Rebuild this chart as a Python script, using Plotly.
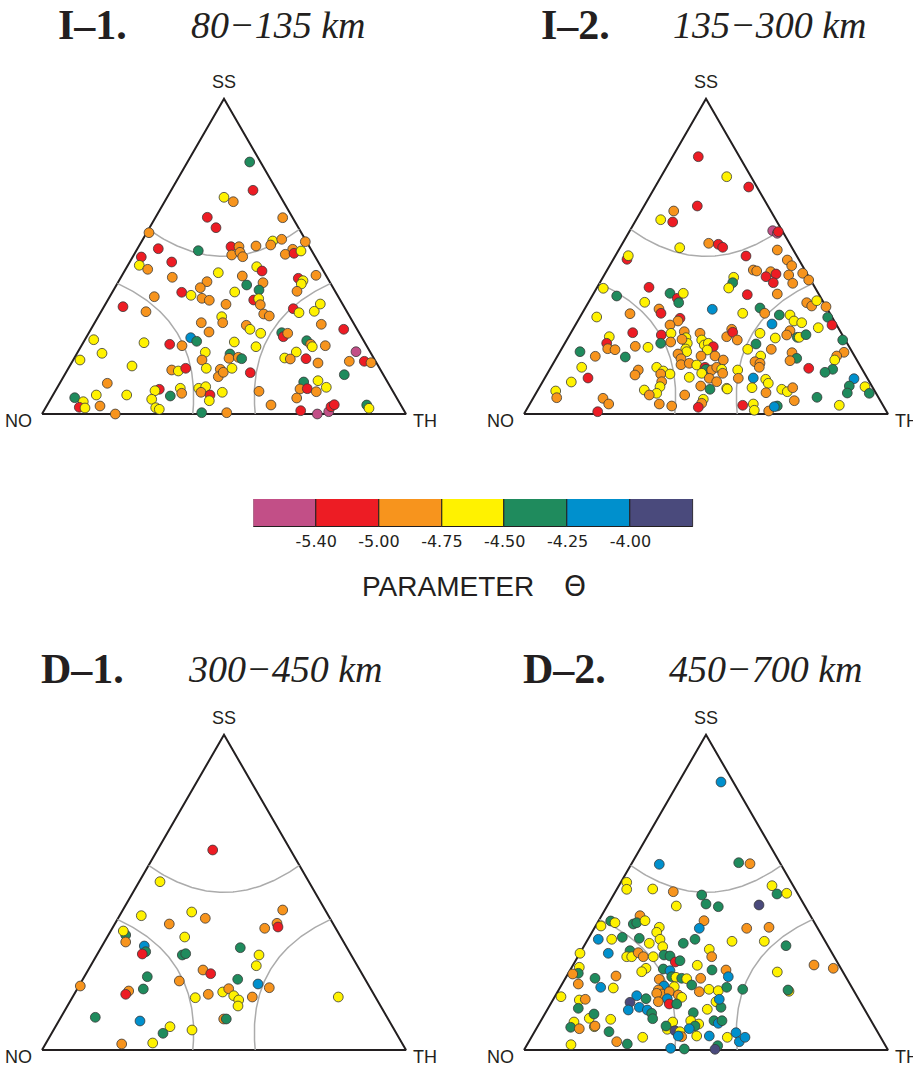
import math
import numpy as np
import plotly.graph_objects as go

# ---------------------------------------------------------------------------
# DATA
# Point positions are read on each triangle diagram in units where the triangle
# side = 364 (x: from NO vertex toward TH vertex, y: height above the NO-TH base).
# Third element: Theta class (M < -5.40 < R < -5.00 < O < -4.75 < Y < -4.50 < G < -4.25 < B < -4.00 < P)
# ---------------------------------------------------------------------------
SIDE = 364.0

I1_PTS = [
    (165.3, 196.7, 'R'), (174, 186.3, 'R'), (107, 181.3, 'O'), (116.3, 165.3, 'R'), (156.3, 163.3, 'G'),
    (99.3, 157, 'R'), (97.3, 148.7, 'Y'), (105.7, 144.7, 'O'), (129.7, 152, 'R'), (130.3, 136.7, 'O'),
    (176.3, 141.3, 'Y'), (165, 132.3, 'O'), (158.3, 126.3, 'O'), (139.7, 121.7, 'R'), (149, 118.7, 'Y'),
    (160, 115.7, 'O'), (167.3, 113.7, 'O'), (112.3, 117.3, 'O'), (81, 107.3, 'R'), (104, 102.3, 'O'),
    (159.3, 91.3, 'O'), (167, 82, 'O'), (148.7, 76.3, 'B'), (154.7, 72.7, 'G'), (140, 68.3, 'O'),
    (127.7, 69.7, 'R'), (102, 71.3, 'Y'), (51.7, 74.3, 'Y'), (60, 60.7, 'Y'), (38, 54, 'Y'),
    (90, 48, 'Y'), (65.3, 30.7, 'O'), (54.3, 19, 'Y'), (32.7, 16.3, 'G'), (41.3, 12.3, 'Y'),
    (37.3, 6.7, 'R'), (43, 6, 'Y'), (58, 8, 'O'), (73.3, 0, 'O'), (84.7, 19, 'Y'),
    (117.3, 24.7, 'R'), (113, 23.3, 'Y'), (109.7, 14.7, 'Y'), (113.7, 6.3, 'Y'), (117.3, 4.7, 'Y'),
    (128.3, 18, 'G'), (138.3, 25.7, 'Y'), (139.7, 20.7, 'O'), (129.7, 44, 'O'), (136.3, 43, 'Y'),
    (143.7, 45.7, 'R'), (159.7, 1.3, 'G'), (156.7, 25.7, 'Y'), (163.7, 27.3, 'Y'), (159, 21.7, 'O'),
    (168, 19, 'R'), (167.3, 13.3, 'Y'), (163.3, 61.7, 'Y'), (160, 54, 'O'), (164.3, 45.7, 'Y'),
    (178.3, 44.7, 'O'), (176.3, 37.3, 'O'), (181.3, 41.7, 'O'),
    (207.7, 252, 'G'), (211, 223.7, 'R'), (182, 216.7, 'Y'), (191.3, 212.3, 'O'), (240.7, 196.3, 'O'),
    (263.3, 172.3, 'O'), (230.7, 173, 'Y'), (239.7, 174.7, 'O'), (228.7, 169, 'O'), (214, 168, 'O'),
    (189, 167.3, 'R'), (197, 167.3, 'O'), (189.7, 159, 'O'), (198, 161.7, 'O'), (200.7, 157.3, 'O'),
    (250.7, 164.7, 'O'), (243.3, 159.7, 'O'), (252, 160.7, 'R'), (259, 163, 'Y'), (214.7, 147.3, 'Y'),
    (220, 143, 'R'), (200.3, 138, 'O'), (204.7, 129, 'G'), (221, 131.3, 'O'), (217, 124, 'G'),
    (192.7, 122, 'Y'), (211.7, 114, 'R'), (216.7, 115.3, 'Y'), (218.3, 109.3, 'O'), (184, 109.7, 'O'),
    (221.7, 100, 'O'), (227.3, 98, 'O'), (179.7, 97.3, 'Y'), (180.7, 91.3, 'O'), (256.3, 135.7, 'R'),
    (261, 133.3, 'Y'), (259.3, 130, 'Y'), (255, 122.7, 'O'), (274, 138.7, 'O'), (251.3, 105.3, 'R'),
    (257, 101.3, 'Y'), (272.3, 102.7, 'Y'), (278.3, 110, 'Y'), (279.3, 89.7, 'O'), (204.3, 88.7, 'O'),
    (208, 84.7, 'Y'), (218.7, 80.7, 'Y'), (239.7, 81.3, 'G'), (241.3, 77.3, 'R'), (245.7, 80.7, 'O'),
    (192.3, 72, 'Y'), (214, 67.3, 'Y'), (188, 60, 'G'), (187, 55.7, 'O'), (196.3, 56.7, 'O'),
    (199.7, 55.3, 'G'), (190, 45.7, 'Y'), (264.7, 73.3, 'G'), (268.7, 69.7, 'O'), (270.3, 67.3, 'Y'),
    (283.3, 68.3, 'O'), (254.3, 62, 'Y'), (242.7, 56, 'Y'), (248.3, 55, 'O'), (264, 55.3, 'R'),
    (276, 51, 'O'), (301.7, 84.7, 'R'), (314, 62.3, 'M'), (307.3, 52.7, 'O'), (322.3, 52.7, 'R'),
    (329, 51.3, 'O'), (302.3, 39.3, 'G'), (208.3, 41.3, 'R'), (261.7, 32, 'G'), (258, 25, 'O'),
    (265.3, 25.3, 'R'), (276, 33.3, 'Y'), (274.3, 22.3, 'O'), (284.3, 26.7, 'Y'), (254.7, 16, 'O'),
    (217, 22.7, 'O'), (229, 9, 'O'), (180.3, 21.7, 'Y'), (184.7, 1.3, 'O'), (258.7, 3.3, 'R'),
    (275.3, 0, 'M'), (286.7, 2.3, 'M'), (289, 7.3, 'R'), (292.3, 9.3, 'R'), (324.7, 9, 'G'),
    (327, 5.7, 'Y'),
]

I2_PTS = [
    (149.7, 203, 'O'), (136.7, 194.3, 'Y'), (148.7, 192, 'R'), (155.7, 166.3, 'Y'), (103, 154.7, 'R'),
    (104.3, 158.3, 'Y'), (72.7, 97, 'Y'), (56, 62.3, 'G'), (71.3, 57.7, 'O'), (57.7, 46.7, 'Y'),
    (64, 36, 'R'), (47.3, 32, 'Y'), (31.7, 23, 'Y'), (32.7, 16.3, 'O'), (73.7, 2.3, 'R'),
    (79.3, 125.7, 'Y'), (92.7, 118, 'G'), (125, 126.7, 'R'), (146, 120.7, 'G'), (153.3, 115.7, 'R'),
    (159.3, 120.7, 'Y'), (154.7, 111.3, 'G'), (120.7, 111.7, 'Y'), (135, 105, 'O'), (137, 100.7, 'R'),
    (106, 100.3, 'O'), (188.3, 104.7, 'B'), (156, 95.7, 'R'), (154, 93, 'O'), (146, 89, 'O'),
    (108.7, 81.3, 'R'), (85.3, 77.3, 'Y'), (82.7, 70.7, 'R'), (83.7, 65.3, 'O'), (91, 64.3, 'O'),
    (111.3, 67.7, 'O'), (124, 66.7, 'Y'), (101.3, 57, 'G'), (137.3, 79, 'R'), (136.7, 70.7, 'G'),
    (147, 80.7, 'Y'), (146.7, 72, 'O'), (160.3, 82.3, 'O'), (162, 76.3, 'Y'), (163.3, 70.7, 'Y'),
    (161.7, 65, 'Y'), (162.7, 62.3, 'Y'), (158, 74.7, 'O'), (154, 60, 'O'), (157, 55.3, 'O'),
    (157, 49.3, 'O'), (165.3, 50.7, 'O'), (176, 80.7, 'O'), (177.7, 74, 'Y'), (180.3, 69, 'Y'),
    (184.3, 70.7, 'Y'), (189.3, 67.3, 'R'), (183.3, 64, 'Y'), (177, 58, 'O'), (191, 58, 'O'),
    (199.3, 54, 'O'), (202.7, 77.3, 'O'), (172.7, 49, 'Y'), (181, 46.7, 'R'), (182, 44.7, 'G'),
    (177.7, 40.7, 'Y'), (187.7, 44, 'O'), (192.7, 46.7, 'O'), (197.7, 44.7, 'Y'), (185.3, 35.7, 'O'),
    (192.7, 32.3, 'O'), (202.7, 25.7, 'Y'), (176.7, 28, 'O'), (186, 24.7, 'G'), (165.3, 36.7, 'Y'),
    (160.7, 19, 'O'), (179.3, 14.7, 'Y'), (177.7, 10.7, 'O'), (174.3, 6.7, 'R'), (132.7, 46.7, 'Y'),
    (139.3, 43, 'Y'), (146, 40, 'Y'), (136.7, 40, 'O'), (137.7, 32.3, 'O'), (114.3, 44, 'O'),
    (111, 39, 'O'), (136, 27.3, 'Y'), (132.7, 20.7, 'Y'), (120.3, 24, 'Y'), (125.3, 19, 'O'),
    (135.3, 10, 'O'), (147.7, 8, 'O'), (79, 15.7, 'O'), (84.7, 10, 'O'),
    (174.3, 257.3, 'R'), (202.7, 237.3, 'Y'), (224.7, 227, 'R'), (173.3, 208, 'R'), (248.7, 183.3, 'M'),
    (253.3, 180.7, 'M'), (254.3, 182.3, 'R'), (184.7, 170.7, 'O'), (194.3, 169.7, 'R'), (198.7, 166.7, 'R'),
    (222, 158, 'R'), (253.3, 164, 'O'), (263.3, 154, 'O'), (267.7, 148.3, 'O'), (229.3, 144, 'O'),
    (232.7, 143, 'O'), (246.7, 142.3, 'O'), (252, 140, 'R'), (242, 137.3, 'R'), (249.3, 131.3, 'R'),
    (264.7, 139, 'O'), (268.7, 130.7, 'O'), (278.7, 140.7, 'O'), (284.7, 134, 'O'), (209.7, 136.7, 'Y'),
    (208.7, 131.3, 'G'), (204.7, 126, 'Y'), (223.3, 119.3, 'R'), (253.3, 120, 'O'), (218.7, 100.7, 'Y'),
    (236, 106, 'G'), (240.7, 100.7, 'O'), (255.3, 99, 'G'), (248, 90, 'B'), (266, 99, 'Y'),
    (270, 93, 'Y'), (277.7, 91.3, 'Y'), (282.7, 111.3, 'O'), (287.7, 108, 'O'), (292.7, 113.3, 'Y'),
    (302, 107.3, 'O'), (303.7, 96.7, 'G'), (308, 89, 'R'), (294.3, 86.3, 'Y'), (318.7, 74, 'G'),
    (266, 83.3, 'O'), (262.7, 79, 'O'), (273.3, 76.7, 'G'), (275.3, 76.7, 'Y'), (282, 79.3, 'G'),
    (251.3, 76, 'Y'), (236, 80.7, 'Y'), (232, 70, 'G'), (247.3, 64.7, 'O'), (223.7, 64.7, 'Y'),
    (236.7, 58, 'Y'), (231, 52.3, 'O'), (236, 50.7, 'O'), (235.3, 46.7, 'O'), (268, 61.3, 'O'),
    (272.7, 55.7, 'G'), (266, 53.3, 'O'), (320, 61.7, 'O'), (312.7, 58, 'O'), (310.7, 54, 'Y'),
    (308.7, 44.7, 'G'), (301, 41.7, 'G'), (284.7, 45.7, 'R'), (213.7, 44, 'Y'), (214.3, 35.7, 'O'),
    (229.3, 36, 'B'), (228, 26.3, 'Y'), (241.7, 34.7, 'Y'), (244.3, 30.7, 'Y'), (242, 21.3, 'O'),
    (257.7, 24.7, 'Y'), (263.3, 22.3, 'Y'), (268.7, 26.3, 'O'), (270.3, 13.3, 'O'), (293, 16.7, 'G'),
    (218.7, 8.7, 'R'), (229.3, 10, 'Y'), (230.3, 3.7, 'Y'), (244.7, 3, 'O'), (253.3, 8, 'G'),
    (250.3, 7.3, 'B'), (315.3, 8.7, 'Y'), (330, 35.3, 'B'), (325.3, 28, 'G'), (323.3, 21, 'G'),
    (341, 27.3, 'Y'), (345.3, 20.7, 'G'), (203.3, 25, 'Y'), (207.7, 84.7, 'O'), (208.7, 81.7, 'R'),
    (213.3, 74, 'O'), (198.7, 40.7, 'O'),
]

D1_PTS = [
    (170.7, 200, 'R'), (118, 168.3, 'Y'), (99.3, 134.3, 'Y'), (149.7, 138, 'Y'), (163.3, 131.7, 'O'),
    (127.3, 126, 'O'), (240.7, 140, 'O'), (235, 126.7, 'O'), (236, 123, 'R'), (222.7, 121.7, 'O'),
    (83.7, 115, 'G'), (81.3, 119, 'Y'), (83.7, 108, 'O'), (142.7, 113, 'Y'), (102.3, 104, 'B'),
    (103.7, 98.3, 'G'), (100.3, 96, 'R'), (140.3, 95, 'G'), (143.7, 96.3, 'G'), (198.3, 102.3, 'G'),
    (217, 95, 'Y'), (214.3, 84.3, 'Y'), (161, 80, 'O'), (168.7, 76.3, 'R'), (105.3, 73.3, 'G'),
    (137.3, 69, 'O'), (195.7, 70.7, 'G'), (216, 66, 'B'), (227.3, 62.3, 'O'), (38.3, 64, 'O'),
    (86.7, 59, 'O'), (83.7, 55.7, 'R'), (101.3, 61, 'G'), (153.3, 52.3, 'Y'), (166.3, 55.7, 'O'),
    (180.7, 58, 'Y'), (186.7, 61.3, 'O'), (191.7, 54.3, 'Y'), (196.7, 50, 'Y'), (196, 44, 'Y'),
    (210.3, 53, 'O'), (296.3, 53, 'Y'), (53.3, 32.7, 'G'), (98, 29, 'B'), (181.7, 31, 'O'),
    (184.3, 31, 'G'), (128, 23.3, 'Y'), (121, 16.7, 'G'), (150, 20, 'Y'), (79.7, 6, 'O'),
    (110.7, 7, 'Y'),
]

D2_PTS = [
    (135.3, 185.7, 'B'), (102.7, 167.7, 'Y'), (102.7, 160.7, 'Y'), (128.7, 161, 'Y'), (149.3, 158.3, 'O'),
    (56, 96.7, 'Y'), (55.3, 82.7, 'Y'), (54.3, 76.7, 'G'), (48.7, 76, 'O'), (54.3, 66, 'O'),
    (37, 53.3, 'Y'), (55.3, 50, 'Y'), (61.3, 50.7, 'O'), (54.3, 41.7, 'G'), (50, 28, 'Y'),
    (46.7, 22.7, 'G'), (55.3, 21.3, 'O'), (47, 5.3, 'Y'), (65.3, 31.7, 'Y'), (70.3, 23.3, 'Y'),
    (152.3, 144, 'Y'), (182, 146, 'G'), (194.3, 143.3, 'G'), (116, 134.3, 'O'), (109.3, 126, 'G'),
    (112.7, 127.3, 'G'), (121, 129.3, 'Y'), (86.7, 129, 'G'), (91, 127.3, 'Y'), (77, 124, 'Y'),
    (74.3, 110.7, 'B'), (87.7, 110.7, 'Y'), (98.3, 112.7, 'G'), (135.3, 122.7, 'Y'), (132.7, 117.7, 'Y'),
    (115.3, 111.7, 'G'), (125.3, 106.7, 'Y'), (136, 110.7, 'Y'), (138.7, 103.3, 'Y'), (180, 129.3, 'O'),
    (175.3, 121.7, 'B'), (171, 110.7, 'G'), (159.3, 106.7, 'G'), (208, 108.7, 'Y'), (222.7, 121.7, 'O'),
    (84.3, 96.7, 'B'), (106, 99.3, 'G'), (102.7, 93.3, 'Y'), (107.7, 93.3, 'Y'), (114.3, 97.3, 'O'),
    (119.3, 93.3, 'O'), (129.3, 93.3, 'Y'), (140, 95, 'G'), (146, 94, 'G'), (151.3, 88, 'R'),
    (156, 89.3, 'G'), (185.3, 100.7, 'Y'), (187.7, 93.3, 'O'), (173.3, 84.7, 'Y'), (188, 80, 'G'),
    (202, 80, 'O'), (204.3, 73.3, 'B'), (122, 81.7, 'Y'), (117.7, 78.3, 'Y'), (139.3, 81, 'G'),
    (146, 79.3, 'B'), (71, 71.7, 'G'), (92, 74, 'O'), (76.7, 62.7, 'B'), (89.3, 62, 'Y'),
    (135.3, 70.7, 'O'), (147.7, 73.3, 'G'), (152, 72.7, 'Y'), (157.7, 71.7, 'G'), (162.7, 71.3, 'Y'),
    (176.7, 71.7, 'O'), (167.7, 65, 'G'), (140, 64, 'B'), (150.3, 63.3, 'Y'), (134.3, 60, 'O'),
    (137.7, 56, 'O'), (132.7, 56.7, 'O'), (145.3, 58.3, 'O'), (154.3, 55, 'O'), (157.7, 52.7, 'Y'),
    (143.3, 51.3, 'B'), (122, 51.3, 'G'), (112.7, 54.3, 'B'), (106, 47.7, 'P'), (104.3, 40, 'B'),
    (115.3, 42.7, 'B'), (123.3, 40, 'B'), (127.7, 36.7, 'G'), (128.7, 31.3, 'G'), (134.3, 48.3, 'O'),
    (145.3, 46, 'R'), (152.7, 46, 'G'), (175.3, 58.3, 'O'), (185, 60.7, 'Y'), (194.3, 59.3, 'Y'),
    (192, 48.3, 'Y'), (197, 42.7, 'G'), (195.3, 50.7, 'B'), (202.7, 62.7, 'G'), (218.7, 60.7, 'G'),
    (183.3, 40.7, 'Y'), (169.3, 37.3, 'G'), (166.7, 29.3, 'Y'), (174.7, 26, 'Y'), (171, 24, 'G'),
    (165.3, 21.3, 'B'), (190, 29.3, 'G'), (194.3, 26.7, 'B'), (198, 29.3, 'G'), (148.7, 28, 'Y'),
    (143.3, 20.7, 'Y'), (142, 24, 'G'), (151, 19.3, 'P'), (156, 18.3, 'Y'), (157.7, 13.3, 'O'),
    (154.3, 14, 'B'), (172.7, 14, 'Y'), (185.3, 14, 'B'), (203.3, 12.7, 'Y'), (212, 17.3, 'B'),
    (215.3, 8.3, 'B'), (221, 12.7, 'B'), (193.7, 4.3, 'G'), (191, 0.7, 'P'), (146.7, 1.7, 'B'),
    (160.3, 1, 'G'), (118.7, 12.7, 'Y'), (103.3, 6, 'G'), (92.7, 8.3, 'O'), (85, 18.3, 'G'),
    (86.7, 30.7, 'Y'), (71, 24, 'O'), (70, 36, 'G'),
    (197, 268, 'B'), (214.7, 187.3, 'G'), (226, 186.3, 'O'), (177.7, 155, 'G'), (248, 164.3, 'Y'),
    (253, 156, 'G'), (262.7, 156.7, 'Y'), (235, 145, 'P'), (245, 122.7, 'O'), (240.3, 108.7, 'Y'),
    (262, 104.3, 'G'), (253.3, 78, 'Y'), (265, 58.7, 'Y'), (264, 60, 'G'), (290, 85, 'O'),
    (309.3, 81.7, 'O'),
]

PANEL_LABELS = ["I–1.", "I–2.", "D–1.", "D–2."]
DEPTH_RANGES = ["80−135 km", "135−300 km", "300−450 km", "450−700 km"]
VERTEX_LABELS = ["SS", "NO", "TH"]

# Theta classes and legend
THETA_CLASSES = ['M', 'R', 'O', 'Y', 'G', 'B', 'P']
THETA_TICKS = ['-5.40', '-5.00', '-4.75', '-4.50', '-4.25', '-4.00']
LEGEND_TITLE = "PARAMETER"
LEGEND_SYMBOL = "Θ"

# Frohlich classification boundaries (plunge, degrees) drawn as grey curves
BOUNDARY_PLUNGE = {'SS': 54.74, 'NO': 54.74, 'TH': 54.74}

# ---------------------------------------------------------------------------
# STYLE / LAYOUT
# ---------------------------------------------------------------------------
W, H = 913, 1068
PX_PER_SIDE = 364.0
TRI_H = math.sqrt(3) / 2
INK = '#231F20'
COLORS = {'M': '#C24F87', 'R': '#ED1C24', 'O': '#F7941D', 'Y': '#FFF200',
          'G': '#1F8B5D', 'B': '#0090CD', 'P': '#4A4A7C'}

PANELS = [
    dict(pts=I1_PTS, left=42, base=414, dx=[0.0, 0.5], dy_px=[60, 440], tx=56, ix=189, ty=25.5),
    dict(pts=I2_PTS, left=524, base=414, dx=[0.5, 1.0], dy_px=[60, 440], tx=539, ix=671, ty=25.5),
    dict(pts=D1_PTS, left=42, base=1050, dx=[0.0, 0.5], dy_px=[700, 1068], tx=39, ix=186, ty=669),
    dict(pts=D2_PTS, left=524, base=1050, dx=[0.5, 1.0], dy_px=[700, 1068], tx=521, ix=667, ty=669),
]


def frohlich(dT, dB, dP):
    z = math.atan(1 / math.sqrt(2))
    psi = np.arctan2(np.sin(dT), np.sin(dP)) - np.pi / 4
    den = math.sin(z) * np.sin(dB) + math.cos(z) * np.cos(dB) * np.cos(psi)
    h = np.cos(dB) * np.sin(psi) / den
    v = (math.cos(z) * np.sin(dB) - math.sin(z) * np.cos(dB) * np.cos(psi)) / den
    r = math.sqrt(1.5)
    return (h + r) / (2 * r), (v + 1 / math.sqrt(2)) / (2 * r)


def boundary(kind, plunge):
    d = math.radians(plunge)
    rr = math.cos(d)
    phi = np.linspace(0, np.pi / 2, 120)
    a = np.arcsin(np.clip(rr * np.sin(phi), -1, 1))
    b = np.arcsin(np.clip(rr * np.cos(phi), -1, 1))
    full = np.full_like(phi, d)
    if kind == 'SS':
        return frohlich(a, full, b)
    if kind == 'NO':
        return frohlich(a, b, full)
    return frohlich(full, b, a)


fig = go.Figure()
layout_axes = {}
annotations = []

for i, p in enumerate(PANELS):
    sfx = '' if i == 0 else str(i + 1)
    xa, ya = 'x' + sfx, 'y' + sfx
    # triangle
    fig.add_trace(go.Scatter(x=[0, 1, 0.5, 0], y=[0, 0, TRI_H, 0], mode='lines',
                             line=dict(color=INK, width=2), xaxis=xa, yaxis=ya,
                             hoverinfo='skip', cliponaxis=False))
    for kind in ['SS', 'NO', 'TH']:
        bx, by = boundary(kind, BOUNDARY_PLUNGE[kind])
        fig.add_trace(go.Scatter(x=bx, y=by, mode='lines', line=dict(color='#ABABAB', width=1.5),
                                 xaxis=xa, yaxis=ya, hoverinfo='skip'))
    xs = [pt[0] / SIDE for pt in p['pts']]
    ys = [pt[1] / SIDE for pt in p['pts']]
    cs = [COLORS[pt[2]] for pt in p['pts']]
    fig.add_trace(go.Scatter(x=xs, y=ys, mode='markers', xaxis=xa, yaxis=ya, cliponaxis=False,
                             marker=dict(size=9.8, color=cs, line=dict(color='#3A3A3A', width=0.8))))
    # axis ranges so that one triangle side = PX_PER_SIDE pixels
    d0, d1 = p['dx']
    xr0 = -(p['left'] - d0 * W) / PX_PER_SIDE
    xr1 = xr0 + (d1 - d0) * W / PX_PER_SIDE
    top_px, bot_px = p['dy_px']
    dy0, dy1 = (H - bot_px) / H, (H - top_px) / H
    yr0 = -((H - p['base']) - dy0 * H) / PX_PER_SIDE
    yr1 = yr0 + (dy1 - dy0) * H / PX_PER_SIDE
    xkey = 'xaxis' + sfx
    ykey = 'yaxis' + sfx
    layout_axes[xkey] = dict(domain=[d0, d1], range=[xr0, xr1], visible=False, fixedrange=True, anchor=ya)
    layout_axes[ykey] = dict(domain=[dy0, dy1], range=[yr0, yr1], visible=False, fixedrange=True, anchor=xa)
    # vertex labels
    for txt, (vx, vy) in zip(VERTEX_LABELS, [(0.5, TRI_H + 0.047), (-0.064, -0.02), (1.052, -0.02)]):
        annotations.append(dict(x=vx, y=vy, xref=xa, yref=ya, text=txt, showarrow=False,
                                xanchor='center', yanchor='middle',
                                font=dict(family='Liberation Sans', size=18, color=INK)))
    # titles
    annotations.append(dict(x=p['tx'] / W, y=1 - p['ty'] / H, xref='paper', yref='paper',
                            text='<b>' + PANEL_LABELS[i] + '</b>', showarrow=False,
                            xanchor='left', yanchor='middle',
                            font=dict(family='Liberation Serif', size=42, color=INK)))
    annotations.append(dict(x=p['ix'] / W, y=1 - p['ty'] / H, xref='paper', yref='paper',
                            text='<i>' + DEPTH_RANGES[i] + '</i>', showarrow=False,
                            xanchor='left', yanchor='middle',
                            font=dict(family='Liberation Serif', size=38, color=INK)))

# colour legend as a row of bars
fig.add_trace(go.Bar(x=list(range(len(THETA_CLASSES))), y=[1] * len(THETA_CLASSES), width=1,
                     marker=dict(color=[COLORS[c] for c in THETA_CLASSES], line=dict(color=INK, width=1)),
                     xaxis='x5', yaxis='y5', cliponaxis=False, hoverinfo='skip'))
layout_axes['xaxis5'] = dict(domain=[253.3 / W, 693.3 / W], range=[-0.5, len(THETA_CLASSES) - 0.5],
                             showgrid=False, zeroline=False, showline=False, ticks='',
                             tickvals=[k + 0.5 for k in range(len(THETA_TICKS))], ticktext=THETA_TICKS,
                             tickfont=dict(family='DejaVu Sans', size=16, color=INK),
                             ticklabelstandoff=3, fixedrange=True, anchor='y5')
layout_axes['yaxis5'] = dict(domain=[(H - 527) / H, (H - 499) / H], range=[0, 1], visible=False,
                             fixedrange=True, anchor='x5')
annotations.append(dict(x=448 / W, y=1 - 586 / H, xref='paper', yref='paper', text=LEGEND_TITLE,
                        showarrow=False, xanchor='center', yanchor='middle',
                        font=dict(family='Liberation Sans', size=28, color=INK)))
annotations.append(dict(x=575 / W, y=1 - 586 / H, xref='paper', yref='paper', text=LEGEND_SYMBOL,
                        showarrow=False, xanchor='center', yanchor='middle',
                        font=dict(family='DejaVu Sans', size=28, color=INK)))

fig.update_layout(width=W, height=H, margin=dict(l=0, r=0, t=0, b=0),
                  paper_bgcolor='white', plot_bgcolor='white', showlegend=False,
                  annotations=annotations, bargap=0, **layout_axes)

fig.write_html("out.html")
